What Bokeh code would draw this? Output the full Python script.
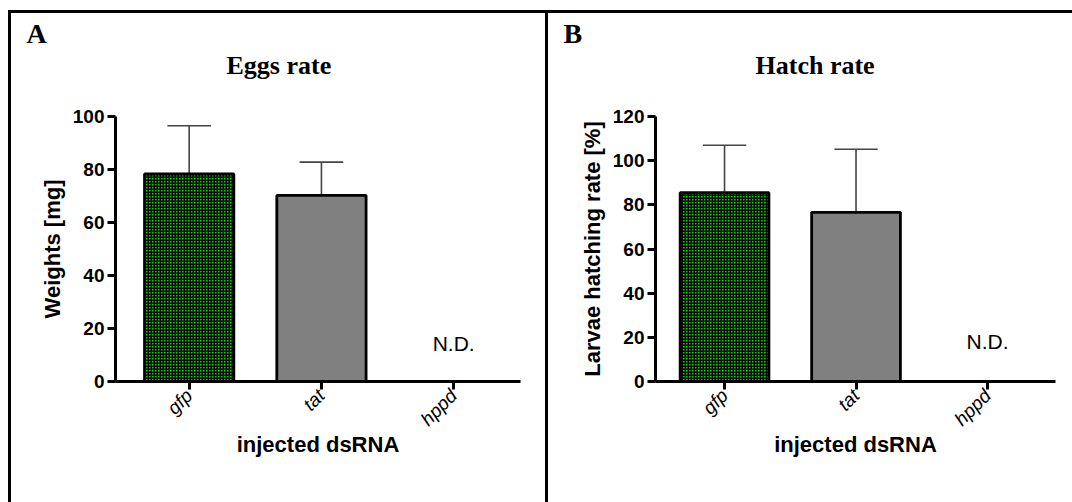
import math
from bokeh.plotting import figure
from bokeh.models import (Range1d, FixedTicker, Title, Row, ColumnDataSource,
                          LinearAxis)
from bokeh.core.properties import value
from bokeh.embed import file_html
from bokeh.resources import INLINE

# ---------------- data ----------------
categories = ["gfp", "tat", "hppd"]
measured = ["gfp", "tat"]          # hppd: not detected
eggs_mean = [78.3, 70.2]
eggs_err = [18.2, 12.6]
hatch_mean = [85.5, 76.6]
hatch_err = [21.5, 28.6]
nd_category = "hppd"
nd_text = "N.D."
eggs_nd_y = 14.2
hatch_nd_y = 18.2
eggs_yticks = [0, 20, 40, 60, 80, 100]
hatch_yticks = [0, 20, 40, 60, 80, 100, 120]

SANS = "Liberation Sans"
SERIF = "Liberation Serif"


def make_panel(letter, title, ylabel, means, errs, yticks, nd_y,
               width, left, right, xr, title_offset, letter_offset):
    ymax = yticks[-1]
    p = figure(width=width, height=489, output_backend="svg", toolbar_location=None,
               x_range=Range1d(*xr), y_range=Range1d(0, ymax),
               min_border_left=left, min_border_right=right,
               min_border_top=103, min_border_bottom=121)
    p.grid.visible = False
    p.outline_line_color = None
    p.background_fill_color = "white"
    p.border_fill_color = "white"
    p.styles = {"background-color": "white"}

    xs = [categories.index(c) for c in measured]
    src = ColumnDataSource(dict(
        x=xs, top=means, err_top=[m + e for m, e in zip(means, errs)],
        cap_l=[x - 0.165 for x in xs], cap_r=[x + 0.165 for x in xs],
        fill=["#00d400", "#808080"], hatch=["cross", "blank"]))

    # error bars (upper only)
    p.segment(x0="x", y0="top", x1="x", y1="err_top", source=src,
              line_color="#444444", line_width=1.6)
    p.segment(x0="cap_l", y0="err_top", x1="cap_r", y1="err_top", source=src,
              line_color="#444444", line_width=1.6)
    # bars
    p.vbar(x="x", top="top", bottom=0, width=0.675, source=src,
           fill_color="fill", hatch_pattern="hatch", hatch_color="black",
           hatch_scale=3, hatch_weight=1.8, hatch_alpha=1.0,
           line_color="black", line_width=2.8)

    # N.D.
    p.text(x=[categories.index(nd_category)], y=[nd_y], text=[nd_text],
           text_font=value(SANS), text_font_size="21px", text_align="center",
           text_baseline="alphabetic", text_color="black")

    # axes
    for ax in (p.xaxis[0], p.yaxis[0]):
        ax.axis_line_width = 3
        ax.axis_line_color = "black"
        ax.major_tick_line_width = 3
        ax.major_tick_line_color = "black"
        ax.major_tick_in = 0
        ax.major_tick_out = 8
        ax.minor_tick_line_color = None
        ax.axis_label_text_font = SANS
        ax.axis_label_text_font_style = "bold"
        ax.axis_label_text_font_size = "22px"
        ax.axis_label_text_color = "black"
        ax.major_label_text_color = "black"
        ax.major_label_text_font = SANS

    p.xaxis.ticker = FixedTicker(ticks=list(range(len(categories))))
    p.xaxis.major_label_overrides = {i: c for i, c in enumerate(categories)}
    p.xaxis.major_label_orientation = math.pi / 4
    p.xaxis.major_label_text_font_style = "italic"
    p.xaxis.major_label_text_font_size = "19px"
    p.xaxis.major_label_standoff = 3
    p.xaxis.axis_label = "injected dsRNA"
    p.xaxis.axis_label_standoff = -8

    p.yaxis.ticker = FixedTicker(ticks=yticks)
    p.yaxis.major_label_text_font_style = "bold"
    p.yaxis.major_label_text_font_size = "19px"
    p.yaxis.major_label_standoff = 3
    p.yaxis.axis_label = ylabel
    p.yaxis.axis_label_standoff = 5

    # invisible spacer between frame and heading: white tick on white, empty label
    spacer = LinearAxis(ticker=FixedTicker(ticks=[0]), axis_line_color=None,
                        major_tick_line_color="white", major_tick_line_width=1,
                        minor_tick_line_color=None,
                        major_tick_in=0, major_tick_out=37, minor_tick_out=0,
                        major_label_standoff=0, major_label_text_color="white",
                        major_label_text_font_size="1px",
                        major_label_overrides={0: ""})
    p.add_layout(spacer, "above")

    heading = Title(text=title, align="left", offset=title_offset,
                    text_font=SERIF, text_font_style="bold", text_font_size="26px",
                    text_color="black", standoff=0)
    p.add_layout(heading, "above")

    tag = Title(text=letter, align="left", offset=letter_offset,
                text_font=SERIF, text_font_style="bold", text_font_size="28px",
                text_color="black", standoff=0)
    p.add_layout(tag, "above")
    return p


pA = make_panel("A", "Eggs rate", "Weights [mg]", eggs_mean, eggs_err,
                eggs_yticks, eggs_nd_y, width=534, left=104, right=25,
                xr=(-0.557, 2.505), title_offset=111, letter_offset=-89)
pB = make_panel("B", "Hatch rate", "Larvae hatching rate [%]", hatch_mean, hatch_err,
                hatch_yticks, hatch_nd_y, width=524, left=107, right=17,
                xr=(-0.525, 2.517), title_offset=100, letter_offset=-92)
pA.margin = (3, 0, 0, 3)
pB.margin = (3, 0, 0, 0)

layout = Row(children=[pA, pB], spacing=3, margin=(10, 0, 0, 8),
             styles={"background-color": "black"})

open("out.html", "w").write(file_html(layout, INLINE))
